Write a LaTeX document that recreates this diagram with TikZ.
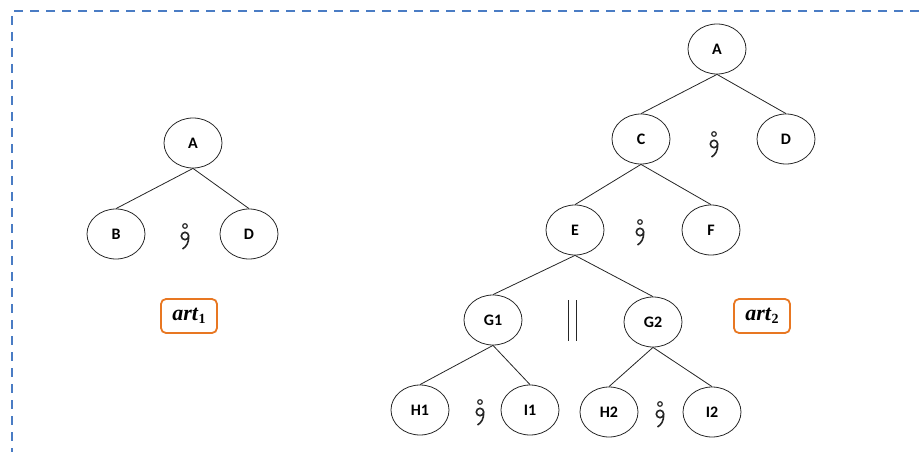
\documentclass[tikz,border=0pt]{standalone}
\usepackage{fontspec}
\setsansfont{Carlito}
\newfontfamily\artfont{Liberation Serif}
\usetikzlibrary{shapes.geometric}
\definecolor{frameblue}{HTML}{4A7CC4}
\definecolor{artorange}{HTML}{E87722}
\newcommand{\artlabel}[1]{\textbf{\textit{art}}\raisebox{-0.35ex}{\fontsize{14}{16}\selectfont\bfseries #1}}

\begin{document}
\begin{tikzpicture}[x=1pt,y=-1pt,font=\sffamily\bfseries\fontsize{16}{19}\selectfont,
  leaf/.style={draw=black!85,ellipse,line width=0.8pt,minimum width=58pt,minimum height=50pt,inner sep=0pt},
  edge/.style={draw=black!85,line width=0.8pt},
  artbox/.style={draw=artorange,line width=1.8pt,rounded corners=5pt,minimum width=56pt,minimum height=34pt,inner sep=0pt,font=\artfont\fontsize{22}{24}\selectfont},
  seq/.pic={
    \draw[black!85,line width=1.2pt] (0,-8) circle (2.3);
    \draw[black!85,line width=1.6pt] (0,2) circle (3.7)
      (3.7,2.5) .. controls (3.7,9) and (1.5,12.5) .. (-2.5,15);}]
\useasboundingbox (0,0) rectangle (919,452);
% frame
\draw[frameblue,line width=1.8pt,dash pattern=on 9pt off 7pt] (919,11) -- (12,11) -- (12,452);

% first tree
\node[leaf] (a1) at (193,143) {A};
\node[leaf] (b1) at (116,234) {B};
\node[leaf] (d1) at (249,234) {D};
\pic (s1) at (185,234) {seq};
\foreach \c in {b1,d1}{\draw[edge] (a1.south) -- (\c.north);}
\node[artbox] (art1) at (189,316) {\artlabel{1}};

% second tree
\node[leaf] (a2) at (717,49) {A};
\node[leaf] (c2) at (641,139) {C};
\node[leaf] (d2) at (786,139) {D};
\node[leaf] (e2) at (575,230) {E};
\node[leaf] (f2) at (711,230) {F};
\node[leaf] (g1) at (493,320) {G1};
\node[leaf] (g2) at (653,322) {G2};
\node[leaf] (h1) at (420,410) {H1};
\node[leaf] (i1) at (530,410) {I1};
\node[leaf] (h2) at (609,412) {H2};
\node[leaf] (i2) at (712,412) {I2};
\pic (s2) at (714,142) {seq};
\pic (s3) at (640,230) {seq};
\pic (s4) at (480,410) {seq};
\pic (s5) at (660,412) {seq};
\foreach \p/\c in {a2/c2,a2/d2,c2/e2,c2/f2,e2/g1,e2/g2,g1/h1,g1/i1,g2/h2,g2/i2}{
  \draw[edge] (\p.south) -- (\c.north);}
\draw[edge,line width=1pt] (568,300) -- (568,341) (576,300) -- (576,341);
\node[artbox] (art2) at (762,316) {\artlabel{2}};
\end{tikzpicture}
\end{document}
